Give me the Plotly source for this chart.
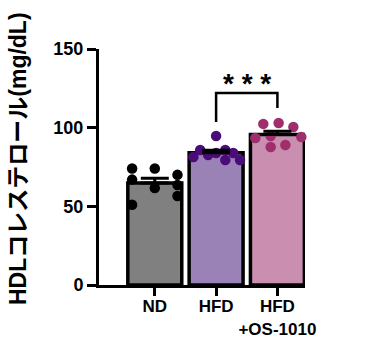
import plotly.graph_objects as go

categories = ["ND", "HFD", "HFD<br>+OS-1010"]
means = [64.9, 84.1, 95.6]
sems = [2.9, 1.6, 2.2]
nd_values = [74, 74, 70, 67, 63.6, 61.7, 56.6, 51]
hfd_values = [94.7, 85.8, 81.4, 82.6, 83.9, 85.8, 83.9, 79.5, 79.5]
os_values = [102.4, 103, 100.4, 93.4, 94.7, 94.1, 87.7, 89]
y_ticks = [0, 50, 100, 150]
sig_label = "* * *"

# horizontal jitter (category units) used to spread the dots
nd_jitter = [-0.37, 0, 0.37, -0.37, 0.37, 0, 0.37, -0.37]
hfd_jitter = [0, -0.26, -0.37, -0.13, 0, 0.15, 0.28, 0.39, 0.15]
os_jitter = [-0.23, 0.02, 0.26, -0.36, -0.11, 0.39, -0.11, 0.13]

bar_colors = ["#808080", "#9b82b6", "#c98eb0"]
dot_colors = ["#000000", "#4a0c78", "#9e2f6c"]

fig = go.Figure()
fig.add_trace(go.Bar(
    x=[0, 1, 2], y=means, width=0.88,
    marker=dict(color=bar_colors, line=dict(color="black", width=3.5)),
    showlegend=False, hoverinfo="skip",
))
for i, (vals, jit) in enumerate([(nd_values, nd_jitter), (hfd_values, hfd_jitter), (os_values, os_jitter)]):
    fig.add_trace(go.Scatter(
        x=[i + j for j in jit], y=vals, mode="markers",
        marker=dict(color=dot_colors[i], size=10.5, line=dict(width=0)),
        showlegend=False, cliponaxis=False,
    ))
fig.add_trace(go.Scatter(
    x=[0, 1, 2], y=means, mode="markers",
    marker=dict(size=1, color="rgba(0,0,0,0)"),
    error_y=dict(type="data", symmetric=False, array=sems, arrayminus=[0, 0, 0],
                 color="black", thickness=3, width=14),
    showlegend=False,
))

# significance bracket between HFD and HFD+OS-1010
fig.add_shape(type="path", path="M 1,103.6 L 1,122 L 2,122 L 2,112.5",
              line=dict(color="black", width=2.5), xref="x", yref="y")
fig.add_annotation(x=1.5, y=128, text="<b>%s</b>" % sig_label, showarrow=False,
                   font=dict(size=28, color="black", family="Liberation Sans, Arial"),
                   xref="x", yref="y", yanchor="middle")

fig.add_annotation(x=(18 - 99) / (392 - 99 - 87), y=(354 - 159 - 69) / (354 - 49 - 69),
                   xref="paper", yref="paper", text="<b>HDLコレステロール(mg/dL)</b>",
                   textangle=-90, showarrow=False, xanchor="center", yanchor="middle",
                   font=dict(size=23, color="black", family="Liberation Sans, Noto Sans CJK JP"))

fig.update_layout(
    width=392, height=354,
    margin=dict(l=99, r=87, t=49, b=69),
    plot_bgcolor="white", paper_bgcolor="white",
    font=dict(family="Liberation Sans, Arial", color="black"),
    xaxis=dict(range=[-0.91, 2.45], tickvals=[0, 1, 2], ticktext=["<b>%s</b>" % c for c in categories],
               showline=True, linewidth=3, linecolor="black", ticks="outside", ticklen=8, tickwidth=3,
               tickcolor="black", showgrid=False, zeroline=False, tickfont=dict(size=17),
               ticklabelstandoff=-4),
    yaxis=dict(range=[0, 150], tickvals=y_ticks, ticktext=["<b>%d</b>" % v for v in y_ticks],
               showline=True, linewidth=3, linecolor="black", ticks="outside", ticklen=9, tickwidth=3,
               tickcolor="black", showgrid=False, zeroline=False, tickfont=dict(size=18)),
)
fig.write_html("out.html")
